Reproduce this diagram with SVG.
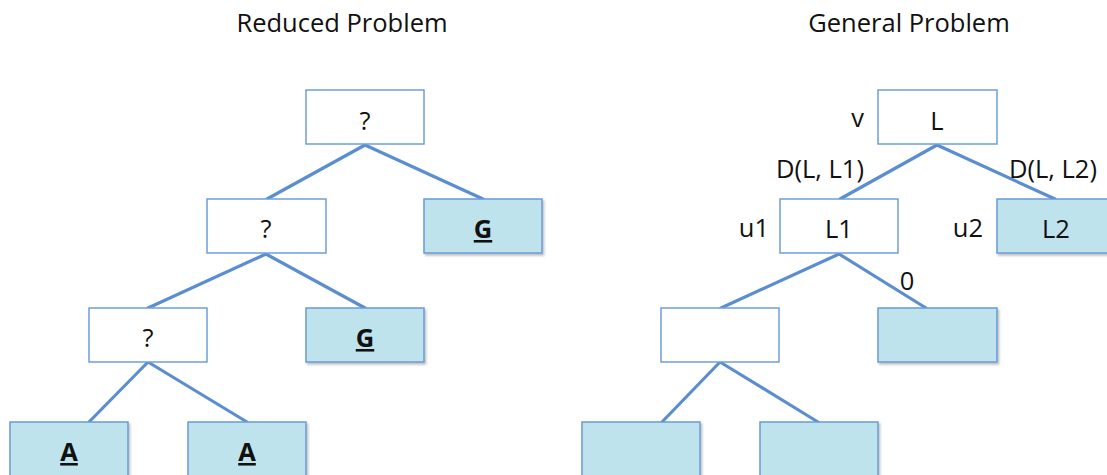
<svg xmlns="http://www.w3.org/2000/svg" width="1107" height="475" viewBox="0 0 1107 475">
<style>
text{font-family:"Open Sans","Liberation Sans",sans-serif;font-size:25.5px;fill:#111}
.t{text-anchor:middle}
.b{font-weight:bold;text-decoration:underline}
.w{fill:#fff;stroke:#6E9FD9;stroke-width:1.5}
.f{fill:#BEE3EC;stroke:#6A9BD6;stroke-width:1.5;filter:url(#sh)}
.c line{stroke:#5B8ED0;stroke-width:3.2;stroke-linecap:round}
</style>
<defs>
<filter id="sh" x="-10%" y="-10%" width="130%" height="140%">
<feDropShadow dx="1.5" dy="2" stdDeviation="1.2" flood-color="#000" flood-opacity="0.25"/>
</filter>
</defs>
<rect width="1107" height="475" fill="#fff"/>
<text class="t" x="342" y="32">Reduced Problem</text>
<text class="t" x="909" y="32">General Problem</text>
<g class="c" id="connectors">
<line x1="365" y1="145" x2="267" y2="199"/>
<line x1="365" y1="145" x2="483" y2="199"/>
<line x1="266" y1="254" x2="148" y2="308"/>
<line x1="266" y1="254" x2="365" y2="308"/>
<line x1="148" y1="362" x2="89" y2="422"/>
<line x1="148" y1="362" x2="247" y2="422"/>
<line x1="937" y1="145" x2="840" y2="199"/>
<line x1="937" y1="145" x2="1055" y2="199"/>
<line x1="839" y1="254" x2="721" y2="308"/>
<line x1="839" y1="254" x2="926" y2="308"/>
<line x1="720" y1="362" x2="662" y2="422"/>
<line x1="720" y1="362" x2="818" y2="422"/>
</g>
<g id="r-root"><rect class="w" x="306" y="90" width="118" height="54"/><text class="t" x="365" y="130">?</text></g>
<g id="r-q2"><rect class="w" x="207" y="199" width="119" height="54"/><text class="t" x="266" y="238">?</text></g>
<g id="r-g1"><rect class="f" x="424" y="199" width="118" height="54"/><text class="t b" x="483" y="238">G</text></g>
<g id="r-q3"><rect class="w" x="89" y="308" width="118" height="54"/><text class="t" x="148" y="347">?</text></g>
<g id="r-g2"><rect class="f" x="306" y="308" width="118" height="54"/><text class="t b" x="365" y="347">G</text></g>
<g id="r-a1"><rect class="f" x="10" y="422" width="118" height="60"/><text class="t b" x="69" y="461">A</text></g>
<g id="r-a2"><rect class="f" x="188" y="422" width="118" height="60"/><text class="t b" x="247" y="461">A</text></g>
<g id="g-root"><rect class="w" x="878" y="90" width="119" height="54"/><text class="t" x="937" y="130">L</text><text x="864" y="127" text-anchor="end">v</text></g>
<g id="g-l1"><rect class="w" x="780" y="199" width="118" height="54"/><text class="t" x="839" y="238">L1</text><text x="769" y="237" text-anchor="end">u1</text></g>
<g id="g-l2"><rect class="f" x="997" y="199" width="118" height="54"/><text class="t" x="1056" y="238">L2</text><text x="983" y="237" text-anchor="end">u2</text></g>
<g id="g-n3"><rect class="w" x="661" y="308" width="118" height="54"/></g>
<g id="g-n4"><rect class="f" x="878" y="308" width="119" height="54"/></g>
<g id="g-n5"><rect class="f" x="582" y="422" width="118" height="60"/></g>
<g id="g-n6"><rect class="f" x="760" y="422" width="118" height="60"/></g>
<g id="labels">
<text x="776" y="178">D(L, L1)</text>
<text x="1009" y="178">D(L, L2)</text>
<text class="t" x="907" y="290">0</text>
</g>
</svg>
